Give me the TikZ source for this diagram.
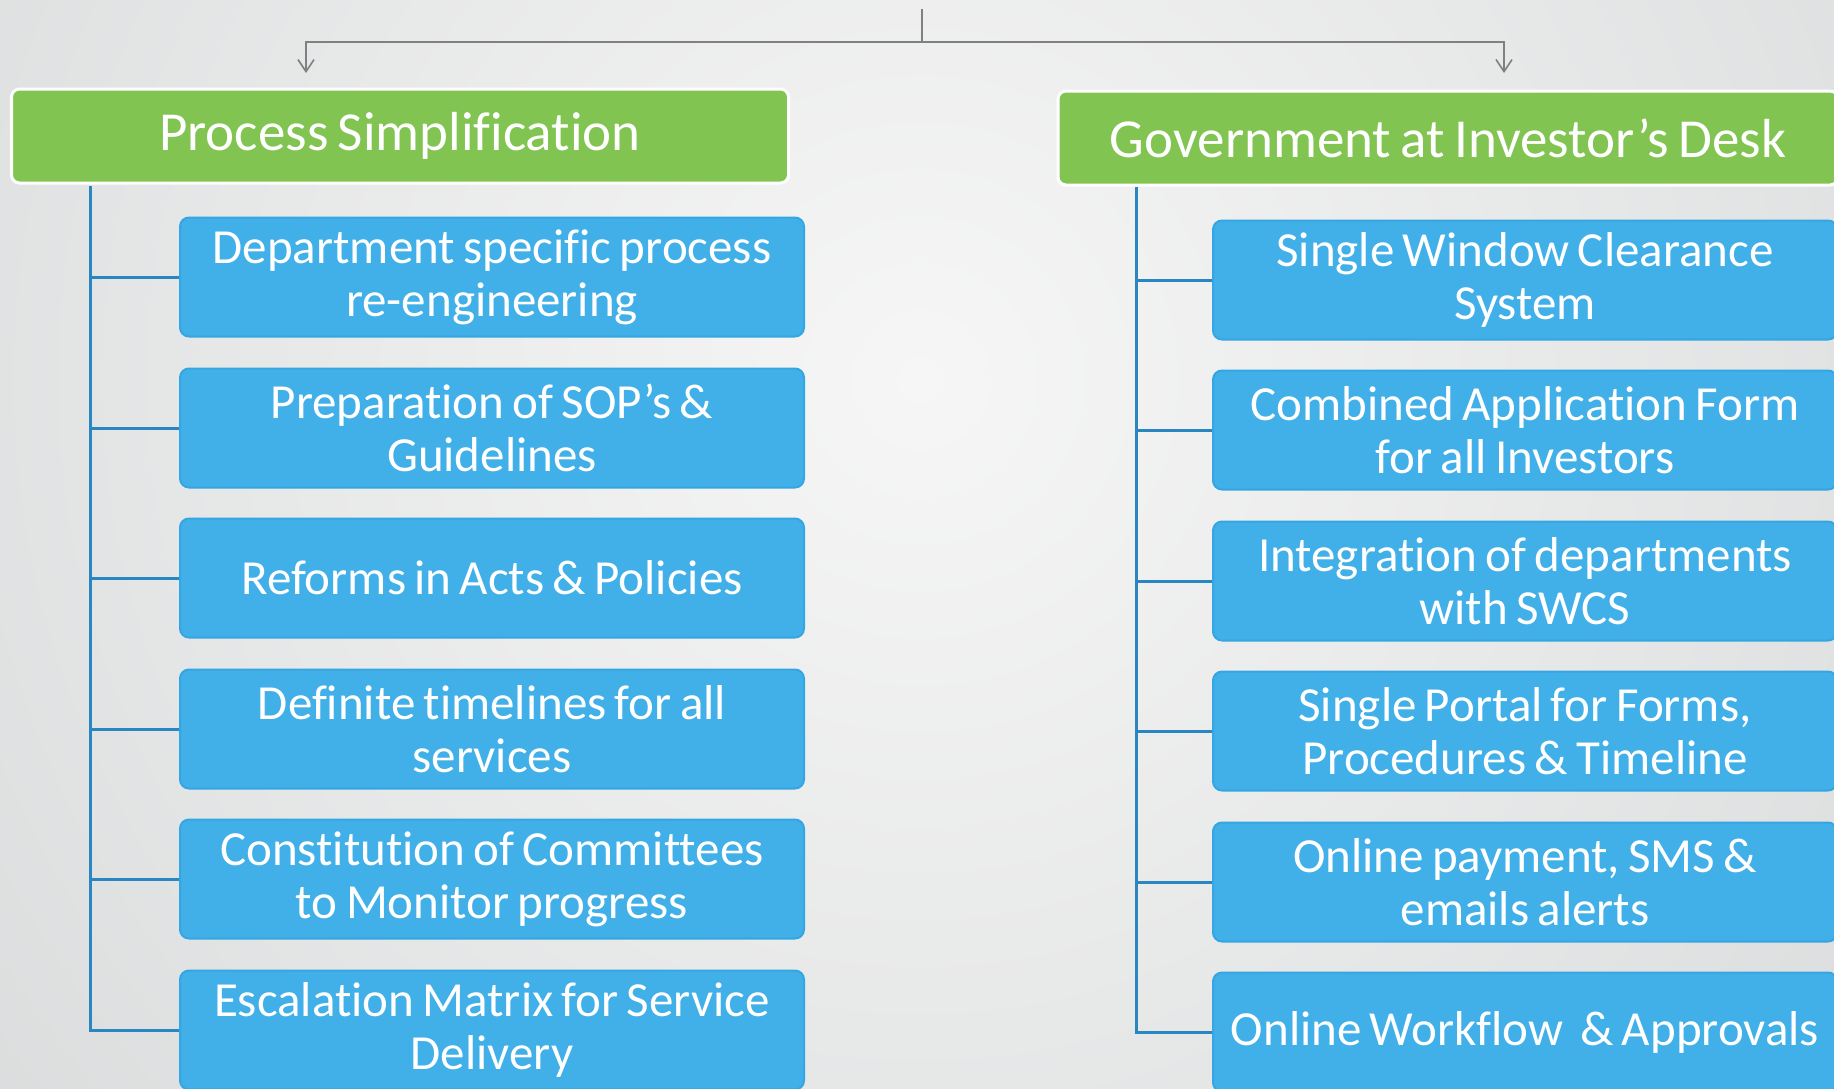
\documentclass[tikz,border=0pt]{standalone}
\usepackage{fontspec}
\setmainfont{Carlito}[Ligatures=NoCommon, WordSpace=0.75]
\usetikzlibrary{arrows.meta}
\definecolor{hgreen}{HTML}{82C451}
\definecolor{iblue}{HTML}{41AFE8}
\definecolor{iblueb}{HTML}{34A6E2}
\definecolor{tline}{HTML}{2A86C0}
\definecolor{agray}{HTML}{808080}
\definecolor{bglight}{HTML}{F6F6F6}
\definecolor{bgdark}{HTML}{C2C5C6}
\tikzset{
  header/.style={fill=hgreen, draw=white, line width=3pt, rounded corners=8pt,
    minimum height=94pt, inner sep=0pt, text=white, font=\fontsize{55}{60}\selectfont},
  item/.style={fill=iblue, draw=iblueb, line width=2pt, rounded corners=9pt,
    minimum width=624pt, minimum height=119pt, align=center,
    inner sep=0pt, text=white, font=\fontsize{49}{53}\selectfont},
  tree/.style={draw=tline, line width=3pt},
  feed/.style={draw=agray, line width=2pt, -{Straight Barb[length=12pt,width=16pt,line width=1.6pt]}},
}
\begin{document}
\begin{tikzpicture}[x=1pt,y=-1pt]
\useasboundingbox (0,0) rectangle (1834,1088);
\begin{scope}
\clip (0,0) rectangle (1834,1088);
\shade[inner color=bglight, outer color=bgdark] (920,380) circle (2300);
\end{scope}
% headers
\node[header, minimum width=777pt] (h1) at (400,136) {Process Simplification};
\node[header, minimum width=780pt] (h2) at (1448,138) {Government at Investor’s Desk};
% feed arrows
\coordinate (top) at (922,9);
\coordinate (a1) at (306,73);
\coordinate (a2) at (1504,73);
\draw[agray, line width=2.6pt] (top) -- (922,42);
\draw[feed] (top |- 0,42) -| (a1);
\draw[feed] (top |- 0,42) -| (a2);
% left items
\node[item] (l1) at (492,277) {Department specific process\\re-engineering};
\node[item] (l2) at (492,428) {Preparation of SOP’s \&\\Guidelines};
\node[item] (l3) at (492,578) {Reforms in Acts \& Policies};
\node[item] (l4) at (492,729) {Definite timelines for all\\services};
\node[item] (l5) at (492,879) {Constitution of Committees\\to Monitor progress};
\node[item] (l6) at (492,1030) {Escalation Matrix for Service\\Delivery};
% right items
\node[item] (r1) at (1525,280) {Single Window Clearance\\System};
\node[item] (r2) at (1525,430) {Combined Application Form\\for all Investors};
\node[item] (r3) at (1525,581) {Integration of departments\\with SWCS};
\node[item] (r4) at (1525,731) {Single Portal for Forms,\\Procedures \& Timeline};
\node[item] (r5) at (1525,882) {Online payment, SMS \&\\emails alerts};
\node[item] (r6) at (1525,1032) {Online Workflow\ \ \& Approvals};
% left tree
\coordinate (lt) at (90,186);
\draw[tree] (lt) -- (lt |- l6.west) -- (l6.west);
\foreach \n in {l1,l2,l3,l4,l5} \draw[tree] (lt |- \n.west) -- (\n.west);
% right tree
\coordinate (rt) at (1136,187);
\draw[tree] (rt) -- (rt |- r6.west) -- (r6.west);
\foreach \n in {r1,r2,r3,r4,r5} \draw[tree] (rt |- \n.west) -- (\n.west);
\end{tikzpicture}
\end{document}
